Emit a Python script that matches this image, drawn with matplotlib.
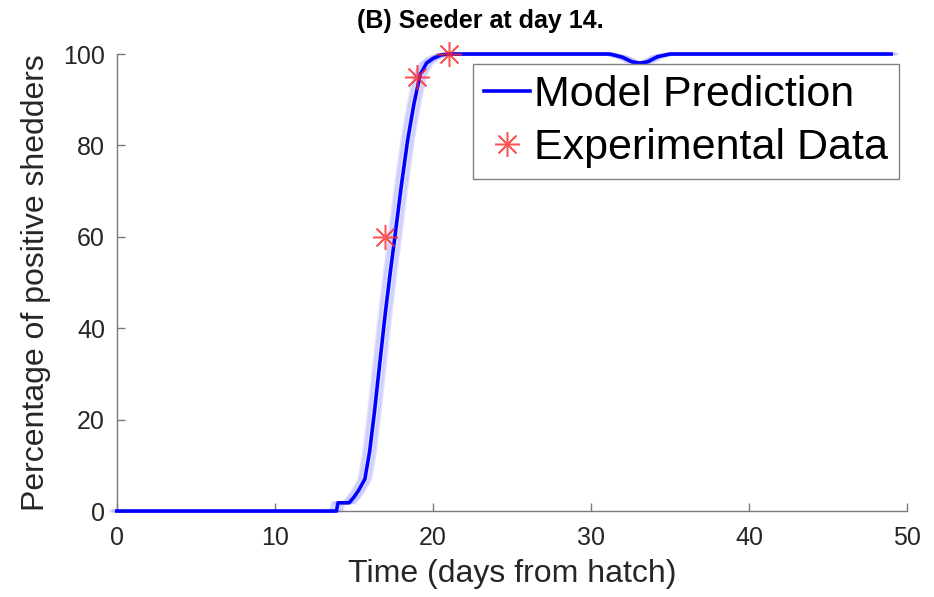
import matplotlib
matplotlib.use("Agg")
import matplotlib.pyplot as plt
import matplotlib.transforms as mtransforms

plt.rcParams['font.family'] = ['Liberation Sans', 'DejaVu Sans']

# model prediction
t_model = [0, 13.9, 14.0, 14.7, 15.0, 15.3, 15.7, 16.0, 16.3, 16.6, 17.0, 17.3,
           17.6, 18.0, 18.4, 18.8, 19.2, 19.6, 20.0, 20.5, 21.0, 31.2, 32.0,
           32.6, 33.1, 33.6, 34.2, 35.0, 49.0]
p_model = [0, 0, 1.8, 1.8, 3, 4.5, 7, 13, 21.5, 31, 43.5, 52,
           60, 71, 81, 89, 95.5, 98, 99, 99.8, 100, 100, 99.3,
           98.3, 98, 98.3, 99.4, 100, 100]

# experimental data
t_exp = [17, 19, 21]
p_exp = [60, 95, 100]

fig = plt.figure(figsize=(9.34, 5.97), dpi=100)
ax = fig.add_axes([0.125, 0.144, 0.846, 0.7655])

# faint band: same curve smeared sideways by a few pixels
for dx in [-6, -4.5, -3, 3, 4.5, 6]:
    tr = ax.transData + mtransforms.ScaledTranslation(dx / 100, 0, fig.dpi_scale_trans)
    ax.plot(t_model, p_model, color='#8080ff', linewidth=2, alpha=0.22,
            transform=tr, zorder=2, clip_on=False)
ax.plot(t_model, p_model, color='#0000ff', linewidth=2.6, label='Model Prediction',
        zorder=3, clip_on=False)
ax.plot(t_exp, p_exp, linestyle='none', marker=(8, 2, 0), markersize=18,
        markeredgewidth=1.1, color='#ff2a2a', alpha=0.8, label='Experimental Data',
        zorder=4, clip_on=False)

ax.set_xlim(0, 50)
ax.set_ylim(0, 100)
ax.set_xticks([0, 10, 20, 30, 40, 50])
ax.set_yticks([0, 20, 40, 60, 80, 100])

for side in ['top', 'right']:
    ax.spines[side].set_visible(False)
for side in ['left', 'bottom']:
    ax.spines[side].set_color('#7a7a7a')
    ax.spines[side].set_linewidth(1.0)

ax.tick_params(direction='in', length=6, width=1, color='#7a7a7a',
               labelsize=18, labelcolor='#262626')
ax.tick_params(axis='x', pad=10.5)
ax.tick_params(axis='y', pad=8.5)

ax.set_xlabel('Time (days from hatch)', fontsize=23, color='#262626', labelpad=7)
ax.set_ylabel('Percentage of positive shedders', fontsize=23, color='#262626', labelpad=9)
ax.set_title('(B) Seeder at day 14.', fontsize=18, fontweight='bold', x=0.46, y=1.0, pad=19)

leg = ax.legend(loc='upper right', bbox_to_anchor=(0.99, 0.978), fontsize=31,
                frameon=True, fancybox=False, borderaxespad=0, handlelength=1.05,
                handletextpad=0.1, borderpad=0.26, labelspacing=0.3)
leg.get_frame().set_edgecolor('#808080')
leg.get_frame().set_linewidth(1.0)
leg.get_frame().set_alpha(1.0)

fig.savefig('out.png', dpi=100)
